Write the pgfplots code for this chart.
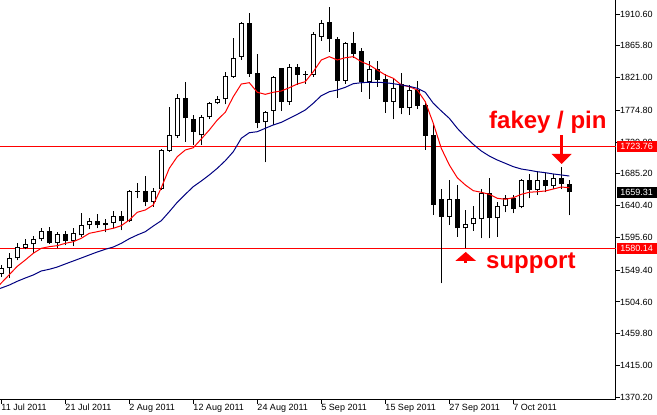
\documentclass[border=0pt]{standalone}
\usepackage{pgfplots}
\pgfplotsset{compat=1.18}
\usepackage{pgfplotstable}
\usepackage{fontspec}
\setmainfont{Liberation Sans}
\definecolor{mtnavy}{RGB}{0,0,128}

\pgfplotstableread{
i O H L C
0 1544.1 1556.7 1539.8 1552.5
1 1552.1 1573.3 1538.8 1566.2
2 1566.2 1588.2 1563.4 1581.7
3 1581.1 1593.0 1578.9 1585.9
4 1585.9 1597.2 1574.1 1593.0
5 1593.0 1608.5 1590.2 1604.3
7 1587.4 1602.9 1580.3 1600.0
9 1590.2 1608.5 1583.1 1601.5
10 1598.6 1629.7 1595.8 1612.7
11 1612.7 1622.6 1607.1 1618.4
13 1612.7 1621.2 1602.9 1615.5
14 1615.5 1632.5 1608.5 1625.4
16 1618.4 1662.1 1617.0 1660.7
17 1660.0 1672.0 1650.8 1661.4
19 1645.2 1665.7 1639.0 1661.1
20 1663.9 1720.3 1662.5 1718.9
21 1717.5 1780.0 1716.5 1739.6
22 1738.6 1797.9 1736.2 1791.8
25 1739.6 1768.2 1725.9 1765.0
26 1765.0 1787.0 1762.2 1784.8
27 1784.8 1795.4 1783.3 1790.4
28 1790.4 1828.5 1783.3 1823.2
29 1822.3 1876.4 1820.8 1848.2
30 1850.5 1898.9 1845.8 1897.5
33 1757.9 1773.9 1701.6 1772.9
34 1773.9 1823.2 1754.2 1821.8
36 1787.0 1839.7 1782.4 1835.5
38 1825.1 1830.3 1812.0 1826.5
39 1824.7 1885.7 1822.3 1882.0
40 1878.6 1902.2 1873.0 1897.5
43 1816.2 1870.8 1812.0 1869.3
46 1814.4 1844.4 1790.8 1832.7
49 1787.0 1820.8 1762.2 1805.9
51 1777.7 1810.6 1768.2 1803.5
56 1624.9 1676.6 1613.1 1649.4
58 1608.5 1634.3 1580.3 1614.1
59 1614.1 1640.0 1605.1 1622.6
60 1621.2 1663.5 1594.4 1657.8
62 1622.6 1645.2 1596.6 1639.5
63 1639.5 1655.4 1631.1 1650.8
65 1638.1 1677.6 1636.7 1676.2
67 1662.1 1687.5 1655.4 1676.2
69 1667.7 1684.6 1663.5 1679.0
}\bull

\pgfplotstableread{
i O H L C
6 1604.3 1609.9 1585.9 1587.4
8 1600.0 1604.3 1584.5 1590.2
12 1618.4 1628.3 1608.5 1612.7
15 1625.4 1632.5 1605.7 1618.4
18 1660.7 1681.8 1639.5 1645.2
23 1791.8 1814.8 1730.6 1763.6
24 1762.6 1768.2 1725.9 1744.7
31 1897.5 1912.1 1822.3 1826.1
32 1827.0 1853.8 1749.5 1757.4
35 1834.1 1834.1 1773.9 1787.0
37 1835.5 1839.7 1810.6 1824.7
41 1898.9 1920.1 1857.5 1875.0
42 1875.0 1878.6 1792.6 1816.2
44 1869.3 1884.9 1849.0 1854.3
45 1858.5 1862.3 1801.1 1814.4
47 1832.7 1844.4 1808.2 1817.6
48 1819.0 1825.6 1771.5 1787.0
50 1812.0 1827.0 1769.2 1777.7
52 1803.5 1816.2 1776.7 1781.4
53 1782.4 1786.2 1718.9 1739.1
54 1740.1 1754.2 1627.2 1641.4
55 1649.4 1663.5 1530.9 1624.9
57 1649.4 1669.6 1596.6 1608.5
61 1657.8 1679.0 1594.4 1622.6
64 1650.8 1655.4 1629.7 1635.3
66 1676.2 1684.6 1650.8 1662.1
68 1676.2 1686.0 1659.3 1667.7
70 1679.0 1695.4 1663.5 1670.5
71 1670.5 1676.2 1626.8 1659.3
}\bear

\pgfplotstableread{
i red blue
-0.2 1529.0 1523.5
0 1531.4 1524.3
1 1543.1 1528.5
2 1554.9 1533.8
3 1563.8 1538.4
4 1573.3 1542.7
5 1580.3 1548.3
6 1582.6 1550.7
7 1584.0 1553.9
8 1587.3 1558.2
9 1589.6 1562.4
10 1594.4 1566.6
11 1601.4 1570.9
12 1603.7 1575.1
13 1606.1 1578.9
14 1608.5 1582.1
15 1612.2 1587.3
16 1620.2 1593.8
17 1631.1 1599.1
18 1634.3 1603.7
19 1641.4 1611.7
20 1665.7 1619.2
21 1693.1 1631.9
22 1709.5 1645.2
23 1718.9 1656.4
24 1722.1 1667.2
25 1734.4 1675.2
26 1747.1 1683.7
27 1761.2 1693.1
28 1772.1 1703.8
29 1794.1 1716.5
30 1811.9 1735.4
31 1813.8 1743.3
32 1800.3 1744.7
33 1797.4 1749.5
34 1800.3 1754.2
35 1802.1 1757.9
36 1806.7 1763.6
37 1811.9 1769.2
38 1815.2 1775.3
39 1829.3 1784.8
40 1845.8 1795.5
41 1850.5 1801.1
42 1845.8 1803.5
43 1849.0 1807.3
44 1850.5 1812.4
45 1843.4 1813.8
46 1838.7 1814.4
47 1831.7 1814.4
48 1824.7 1813.8
49 1820.0 1812.4
50 1810.6 1810.6
51 1808.2 1808.7
52 1803.5 1805.9
53 1787.0 1800.3
54 1756.5 1784.8
55 1721.3 1773.9
56 1697.8 1763.6
57 1679.8 1749.5
58 1669.6 1737.7
59 1661.5 1726.9
60 1659.3 1717.5
61 1656.4 1710.4
62 1650.8 1704.8
63 1649.4 1700.1
64 1651.6 1695.4
65 1656.4 1692.1
66 1659.3 1690.3
67 1660.1 1688.3
68 1661.1 1686.9
69 1663.9 1685.1
70 1666.7 1683.7
71 1665.7 1682.2
}\ma

\pgfplotsset{
  wick/.style={draw=none, no markers, forget plot,
    error bars/.cd, y dir=plus, y explicit, error mark=none,
    error bar style={draw=black, line width=1pt}},
  body/.style={draw=none, no markers, forget plot,
    error bars/.cd, y dir=plus, y explicit, error mark=none,
    error bar style={draw=#1, line width=5pt}},
  inner/.style={draw=none, no markers, forget plot,
    error bars/.cd, y dir=plus, y explicit, error mark=none,
    error bar style={draw=white, line width=3pt}},
}

\begin{document}
\begin{tikzpicture}
\begin{axis}[
  at={(0pt,415pt)}, anchor=north west,
  scale only axis, width=616pt, height=400pt,
  xmin=-0.1625, xmax=76.8375, ymin=1366.4, ymax=1930.4,
  axis x line*=bottom, axis y line*=right,
  axis line style={black, line width=1pt},
  tick align=outside, major tick length=4pt,
  tick style={black, line width=1pt},
  xtick={0,8,16,24,32,40,48,56,64},
  xticklabels={11 Jul 2011, 21 Jul 2011, 2 Aug 2011, 12 Aug 2011, 24 Aug 2011, 5 Sep 2011, 15 Sep 2011, 27 Sep 2011, 7 Oct 2011},
  xticklabel style={anchor=north west, inner sep=0pt, font=\fontsize{9}{10}\selectfont, xshift=0pt},
  ytick={1370.2,1415,1459.8,1504.6,1549.4,1595.6,1640.4,1685.2,1730,1774.8,1821,1865.8,1910.6},
  yticklabel style={anchor=west, inner sep=0pt, font=\fontsize{9}{10}\selectfont,
    /pgf/number format/.cd, fixed, fixed zerofill, precision=2, 1000 sep={}, assume math mode=true},
  clip=true,
]
% support / resistance lines
\addplot[red, line width=1pt, forget plot] coordinates {(-1,1723.76) (78,1723.76)};
\addplot[red, line width=1pt, forget plot] coordinates {(-1,1580.14) (78,1580.14)};
% wicks
\addplot[wick] table[x=i, y=L, y error plus expr=\thisrow{H}-\thisrow{L}] {\bull};
\addplot[wick] table[x=i, y=L, y error plus expr=\thisrow{H}-\thisrow{L}] {\bear};
% bodies
\addplot[body=black] table[x=i, y=C, y error plus expr=\thisrow{O}-\thisrow{C}] {\bear};
\addplot[body=black] table[x=i, y=O, y error plus expr=\thisrow{C}-\thisrow{O}] {\bull};
\addplot[inner] table[x=i, y expr=\thisrow{O}+1.41, y error plus expr={max(0,\thisrow{C}-\thisrow{O}-2.82)}] {\bull};
% moving averages
\addplot[red, line width=1pt, no markers] table[x=i, y=red] {\ma};
\addplot[mtnavy, line width=1pt, no markers] table[x=i, y=blue] {\ma};
% arrows
\fill[red] (axis cs:69.9,1740.0) rectangle (axis cs:70.2,1713.3);
\fill[red] (axis cs:68.8,1713.3) -- (axis cs:71.3,1713.3) -- (axis cs:70.05,1699.2) -- cycle;
\fill[red] (axis cs:56.75,1562.4) -- (axis cs:59.35,1562.4) -- (axis cs:58.05,1575.1) -- cycle;
\fill[red] (axis cs:57.85,1562.4) rectangle (axis cs:58.25,1559.6);
% annotations
\node[red, anchor=base west, inner sep=0pt, font=\fontsize{24}{28}\selectfont\bfseries] at (axis cs:60.96,1749.9) {fakey / pin};
\node[red, anchor=base west, inner sep=0pt, font=\fontsize{24}{28}\selectfont\bfseries] at (axis cs:60.59,1552.5) {support};
\coordinate (p1) at (axis cs:76.8375,1723.76);
\coordinate (p2) at (axis cs:76.8375,1659.31);
\coordinate (p3) at (axis cs:76.8375,1580.14);
\end{axis}
\node[anchor=west, fill=red, text=white, inner sep=0pt, minimum height=11pt, minimum width=40pt, font=\fontsize{9}{10}\selectfont] at ([xshift=0.5pt]p1) {1723.76};
\node[anchor=west, fill=black, text=white, inner sep=0pt, minimum height=11pt, minimum width=40pt, font=\fontsize{9}{10}\selectfont] at ([xshift=0.5pt]p2) {1659.31};
\node[anchor=west, fill=red, text=white, inner sep=0pt, minimum height=11pt, minimum width=40pt, font=\fontsize{9}{10}\selectfont] at ([xshift=0.5pt]p3) {1580.14};
\pgfresetboundingbox
\path[use as bounding box] (0,0) rectangle (657pt,415pt);
\end{tikzpicture}
\end{document}
